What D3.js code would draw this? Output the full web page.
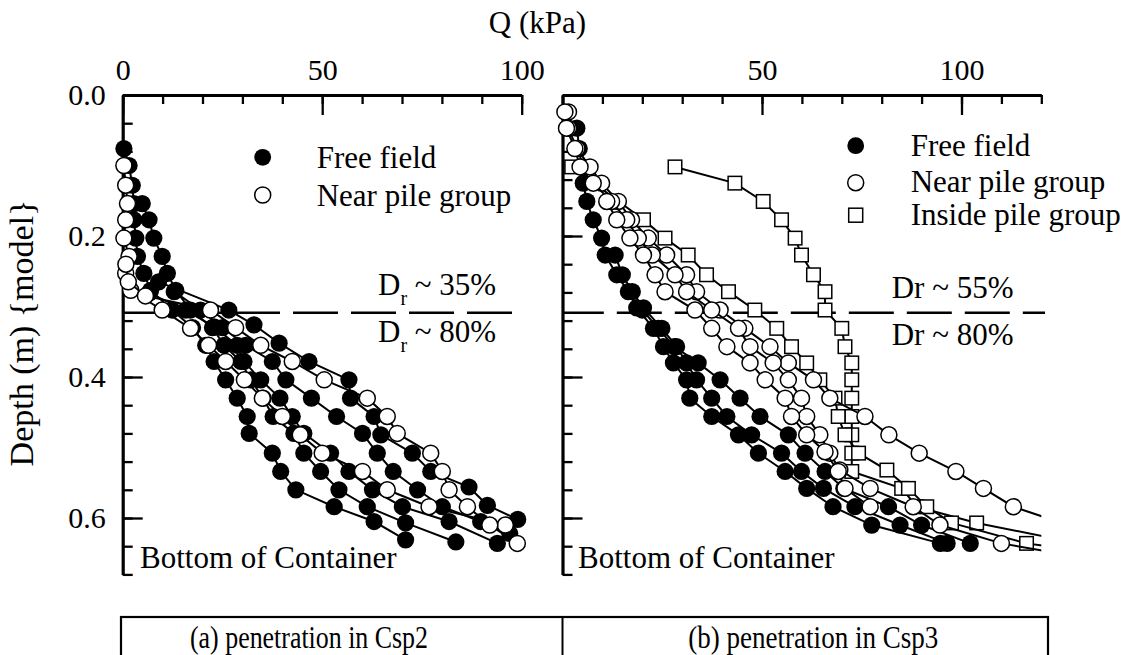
<!DOCTYPE html>
<html><head><meta charset="utf-8">
<script src="https://cdn.jsdelivr.net/npm/d3@7"></script>
<style>
body{margin:0;background:#fff;}
svg{display:block;font-family:"Liberation Serif","Times New Roman",serif;}
</style></head><body>
<svg id="chart" width="1133" height="655"></svg>
<script>
// ---- Cone resistance profiles, [Q (kPa), depth (m)] ----
// (a) Csp2
const csp2Free1 = [[0.3,0.076],[1.6,0.10],[2.4,0.128],[2.8,0.154],[2.8,0.177],[3.3,0.203],[3.7,0.229],[5.3,0.253],[7.0,0.277],[12.4,0.305],[17.5,0.33],[20.8,0.355],[22.9,0.378],[25.8,0.404],[28.7,0.43],[31.2,0.456],[31.7,0.48],[37.5,0.508],[39.6,0.534],[43.4,0.56],[53.0,0.584],[63.0,0.605],[70.9,0.631]];
const csp2Free2 = [[4.9,0.154],[6.6,0.177],[7.8,0.203],[9.9,0.229],[11.2,0.253],[13.3,0.277],[17.0,0.305],[22.5,0.33],[25.4,0.355],[29.6,0.378],[32.1,0.404],[35.2,0.43],[37.7,0.456],[42.9,0.48],[45.4,0.508],[49.6,0.534],[54.2,0.56],[61.3,0.584],[70.9,0.607],[83.5,0.634]];
const csp2Free3 = [[6.6,0.281],[15.8,0.305],[22.9,0.329],[28.7,0.355],[30.4,0.378],[34.6,0.404],[39.4,0.43],[42.5,0.456],[45.4,0.48],[52.1,0.508],[56.7,0.534],[62.6,0.56],[70.1,0.584],[81.8,0.605],[93.9,0.636]];
const csp2Free4 = [[12.9,0.279],[19.5,0.305],[25.0,0.33],[30.8,0.355],[37.5,0.378],[40.9,0.404],[47.3,0.43],[53.6,0.456],[60.1,0.48],[63.8,0.508],[67.8,0.534],[73.9,0.56],[80.1,0.584],[89.7,0.605],[97.0,0.622]];
const csp2Free5 = [[9.0,0.265],[26.6,0.305],[32.9,0.326],[39.2,0.352],[46.7,0.378],[56.7,0.404],[57.1,0.43],[63.0,0.456],[64.7,0.482],[72.6,0.508],[77.2,0.534],[86.8,0.556],[91.4,0.582],[99.0,0.602]];
const csp2Near1 = [[0.3,0.10],[0.75,0.128],[1.2,0.154],[0.75,0.177],[0.3,0.203],[1.6,0.229],[0.75,0.253],[2.0,0.277],[9.9,0.305],[17.0,0.331],[21.5,0.355],[25.8,0.378],[30.5,0.404],[35.0,0.43],[40.0,0.456],[44.5,0.482],[50.0,0.508],[60.1,0.534],[66.3,0.56],[76.8,0.584],[95.9,0.61]];
const csp2Near2 = [[0.8,0.24],[1.4,0.265],[5.7,0.285],[22.0,0.305],[28.3,0.33],[34.6,0.355],[42.5,0.378],[50.5,0.404],[61.3,0.43],[66.3,0.456],[68.8,0.48],[77.2,0.508],[80.1,0.534],[81.8,0.56],[86.4,0.584],[92.0,0.61],[98.9,0.636]];

// (b) Csp3
const csp3Free1 = [[3.6,0.047],[4.2,0.076],[4.8,0.102],[5.2,0.125],[6.1,0.151],[7.7,0.177],[9.8,0.203],[10.7,0.227],[13.6,0.255],[16.5,0.279],[18.6,0.302],[22.8,0.331],[25.3,0.357],[27.8,0.38],[31.1,0.404],[31.9,0.43],[37.4,0.456],[44.1,0.482],[49.1,0.508],[55.8,0.534],[61.2,0.558],[67.8,0.584],[77.5,0.61],[94.7,0.636]];
const csp3Free2 = [[13.2,0.227],[15.0,0.255],[17.5,0.279],[20.3,0.302],[24.9,0.331],[28.6,0.357],[31.1,0.38],[33.6,0.404],[37.4,0.43],[41.2,0.456],[47.4,0.482],[54.9,0.508],[59.9,0.534],[65.4,0.558],[73.3,0.584],[84.6,0.61],[96.4,0.636]];
const csp3Free3 = [[20.0,0.305],[24.0,0.331],[28.0,0.357],[34.0,0.38],[39.5,0.404],[44.5,0.43],[49.5,0.456],[56.6,0.482],[60.8,0.508],[65.8,0.534],[70.5,0.558],[81.7,0.584],[90.0,0.61],[102.2,0.636]];
const csp3Near1 = [[1.5,0.024],[1.5,0.047],[3.6,0.076],[6.9,0.102],[9.8,0.125],[14.0,0.151],[17.3,0.177],[21.5,0.203],[26.1,0.227],[31.1,0.255],[33.6,0.279],[39.5,0.305],[45.7,0.331],[52.0,0.357],[56.6,0.38],[62.9,0.404],[67.0,0.43],[75.8,0.456],[81.8,0.482],[89.4,0.508],[98.6,0.534],[105.5,0.558],[113.0,0.584],[124.0,0.605]];
const csp3Near2 = [[0.6,0.024],[1.0,0.047],[3.1,0.076],[4.4,0.102],[7.7,0.125],[12.3,0.151],[16.1,0.177],[19.0,0.203],[22.5,0.227],[28.2,0.255],[31.1,0.279],[37.4,0.305],[44.1,0.331],[47.0,0.357],[52.8,0.38],[56.6,0.404],[59.9,0.43],[61.2,0.456],[64.5,0.482],[67.0,0.508],[69.5,0.532],[77.1,0.558],[87.9,0.584],[94.6,0.61],[110.0,0.636],[124.0,0.65]];
const csp3Near3 = [[11.1,0.151],[13.6,0.177],[16.9,0.203],[20.3,0.227],[23.2,0.255],[25.7,0.279],[33.2,0.305],[37.4,0.331],[41.2,0.357],[47.0,0.38],[50.8,0.404],[55.8,0.43],[57.4,0.456],[61.2,0.482],[65.8,0.506],[69.1,0.534],[70.8,0.558],[77.1,0.584]];
const csp3Inside1 = [[28.2,0.102],[43.2,0.125],[50.3,0.151],[54.9,0.177],[58.3,0.203],[59.9,0.227],[62.9,0.255],[65.8,0.279],[65.8,0.305],[70.0,0.331],[70.8,0.357],[72.5,0.38],[72.5,0.404],[72.5,0.43],[72.5,0.456],[72.5,0.482],[72.5,0.508],[72.5,0.534],[85.0,0.558],[88.8,0.584],[103.8,0.607],[124.0,0.63]];
const csp3Inside2 = [[2.3,0.102],[20.3,0.177],[25.7,0.203],[31.5,0.227],[36.1,0.255],[41.6,0.279],[48.2,0.305],[53.7,0.331],[57.4,0.357],[61.2,0.38],[64.5,0.404],[68.3,0.43],[69.1,0.456],[70.8,0.482],[74.2,0.508],[81.3,0.532],[86.7,0.558],[91.3,0.584],[97.5,0.607],[116.3,0.636],[124.0,0.642]];

// axes
const qTicksLeft = [0, 50, 100];
const qTicksRight = [0, 50, 100];
const depthTicks = [0, 0.2, 0.4, 0.6];
const dividerDepth = 0.309;

const svg = d3.select("#chart");
const depth = d3.scaleLinear().domain([0, 0.68]).range([95, 574.4]);
const qLeft = d3.scaleLinear().domain([0, 100]).range([122.7, 521.7]);
const qRight = d3.scaleLinear().domain([0, 120]).range([562.5, 1041.3]);

function styleAxis(g, domainW) {
  g.selectAll(".domain").attr("stroke", "#000").attr("stroke-width", domainW);
  g.selectAll(".tick line").attr("stroke", "#000").attr("stroke-width", 2.3);
  g.selectAll(".tick text").attr("fill", "#000").attr("font-size", 30)
    .attr("font-family", '"Liberation Serif", serif');
}

function drawAxes(xScale, qMax, majorTicks, qLabelled, showDepthLabels) {
  const top = depth(0), left = xScale(0);
  // minor ticks along the top
  svg.append("g").attr("transform", `translate(0,${top})`)
    .call(d3.axisTop(xScale).tickValues(d3.range(0, qMax + 1, 10)).tickSize(-9).tickFormat(""))
    .call(g => g.select(".domain").remove()).call(g => styleAxis(g, 3));
  // major ticks along the top
  svg.append("g").attr("transform", `translate(0,${top})`)
    .call(d3.axisTop(xScale).tickValues(majorTicks)
      .tickSize(-20).tickSizeOuter(0).tickPadding(15)
      .tickFormat(d => qLabelled.includes(d) ? d : ""))
    .call(g => styleAxis(g, 3.2));
  // minor ticks down the side
  svg.append("g").attr("transform", `translate(${left},0)`)
    .call(d3.axisLeft(depth).tickValues(d3.range(0, 0.6801, 0.04)).tickSize(-10).tickFormat(""))
    .call(g => g.select(".domain").remove()).call(g => styleAxis(g, 3));
  svg.append("g").attr("transform", `translate(${left},0)`)
    .call(d3.axisLeft(depth).tickValues(depthTicks).tickSize(-20).tickSizeOuter(0).tickPadding(17)
      .tickFormat(d => showDepthLabels ? d3.format(".1f")(d) : ""))
    .call(g => styleAxis(g, 3.2));
}

drawAxes(qLeft, 100, qTicksLeft, [0, 50, 100], true);
drawAxes(qRight, 120, qTicksRight, [50, 100], false);

// density boundary lines
function divider(x0, x1) {
  svg.append("line").attr("x1", x0).attr("x2", x1)
    .attr("y1", depth(dividerDepth)).attr("y2", depth(dividerDepth))
    .attr("stroke", "#000").attr("stroke-width", 2.5)
    .attr("stroke-dasharray", "45,13").attr("stroke-dashoffset", 3.7);
}
divider(qLeft(0), 512);
divider(qRight(0), 1045);

// plot-area clips
svg.append("clipPath").attr("id", "clipR").append("rect")
  .attr("x", 540).attr("y", 80).attr("width", qRight(120) - 540).attr("height", 520);
svg.append("clipPath").attr("id", "clipL").append("rect")
  .attr("x", 100).attr("y", 80).attr("width", qLeft(100) - 100 + 8).attr("height", 520);

function drawSeries(data, xScale, kind, clip) {
  const g = svg.append("g").attr("clip-path", `url(#${clip})`);
  const line = d3.line().x(d => xScale(d[0])).y(d => depth(d[1]));
  g.append("path").datum(data).attr("d", line)
    .attr("fill", "none").attr("stroke", "#000").attr("stroke-width", 2);
  if (kind === "square") {
    const s = 13.5;
    g.selectAll("rect").data(data).join("rect")
      .attr("x", d => xScale(d[0]) - s / 2).attr("y", d => depth(d[1]) - s / 2)
      .attr("width", s).attr("height", s)
      .attr("fill", "#fff").attr("stroke", "#000").attr("stroke-width", 1.5);
  } else {
    g.selectAll("circle").data(data).join("circle")
      .attr("cx", d => xScale(d[0])).attr("cy", d => depth(d[1]))
      .attr("r", kind === "filled" ? 8.6 : 8)
      .attr("fill", kind === "filled" ? "#000" : "#fff")
      .attr("stroke", "#000").attr("stroke-width", kind === "filled" ? 0 : 1.5);
  }
}

[csp2Free1, csp2Free2, csp2Free3, csp2Free4, csp2Free5].forEach(s => drawSeries(s, qLeft, "filled", "clipL"));
[csp2Near1, csp2Near2].forEach(s => drawSeries(s, qLeft, "open", "clipL"));
[csp3Inside1, csp3Inside2].forEach(s => drawSeries(s, qRight, "square", "clipR"));
[csp3Free1, csp3Free2, csp3Free3].forEach(s => drawSeries(s, qRight, "filled", "clipR"));
[csp3Near1, csp3Near2, csp3Near3].forEach(s => drawSeries(s, qRight, "open", "clipR"));

// text
const T = (x, y, txt, size = 31) => svg.append("text").attr("x", x).attr("y", y)
  .attr("font-size", size).attr("fill", "#000").text(txt);

T(537.5, 33, "Q (kPa)").attr("text-anchor", "middle");
svg.append("text").attr("transform", "translate(33,333) rotate(-90)")
  .attr("text-anchor", "middle").attr("font-size", 34).text("Depth (m) {model}");

// legends
function legendMark(x, y, kind) {
  if (kind === "square") {
    svg.append("rect").attr("x", x - 7).attr("y", y - 7).attr("width", 14).attr("height", 14)
      .attr("fill", "#fff").attr("stroke", "#000").attr("stroke-width", 1.5);
  } else {
    svg.append("circle").attr("cx", x).attr("cy", y).attr("r", kind === "filled" ? 8.4 : 8)
      .attr("fill", kind === "filled" ? "#000" : "#fff").attr("stroke", "#000")
      .attr("stroke-width", kind === "filled" ? 0 : 1.5);
  }
}
legendMark(262.7, 157.3, "filled"); T(316.7, 168, "Free field");
legendMark(262.7, 195, "open"); T(316.7, 205.5, "Near pile group");
legendMark(855.7, 145.7, "filled"); T(910.7, 155.5, "Free field");
legendMark(855.7, 182.7, "open"); T(910.7, 192, "Near pile group");
legendMark(855.7, 215.2, "square"); T(910.7, 225, "Inside pile group");

// relative density labels
function drLabel(x, y, value, sub) {
  const t = svg.append("text").attr("x", x).attr("y", y).attr("font-size", 31);
  if (sub) {
    t.append("tspan").text("D");
    t.append("tspan").attr("dy", 10).attr("font-size", 20).text("r");
    t.append("tspan").attr("dy", -10).text(` ~ ${value}`);
  } else {
    t.text(`Dr ~ ${value}`);
  }
}
drLabel(378, 295, "35%", true);
drLabel(378, 341.7, "80%", true);
drLabel(891.7, 298.3, "55%", false);
drLabel(891.7, 345, "80%", false);

T(140, 568.3, "Bottom of Container");
T(578, 568.3, "Bottom of Container");

// captions
svg.append("rect").attr("x", 121).attr("y", 617).attr("width", 1048 - 121).attr("height", 50)
  .attr("fill", "none").attr("stroke", "#000").attr("stroke-width", 2.2);
svg.append("line").attr("x1", 562.5).attr("x2", 562.5).attr("y1", 617).attr("y2", 667)
  .attr("stroke", "#000").attr("stroke-width", 2);
T(190, 648.3, "(a) penetration in Csp2").attr("textLength", 238).attr("lengthAdjust", "spacingAndGlyphs");
T(688.3, 648.3, "(b) penetration in Csp3").attr("textLength", 250).attr("lengthAdjust", "spacingAndGlyphs");
</script>
</body></html>
